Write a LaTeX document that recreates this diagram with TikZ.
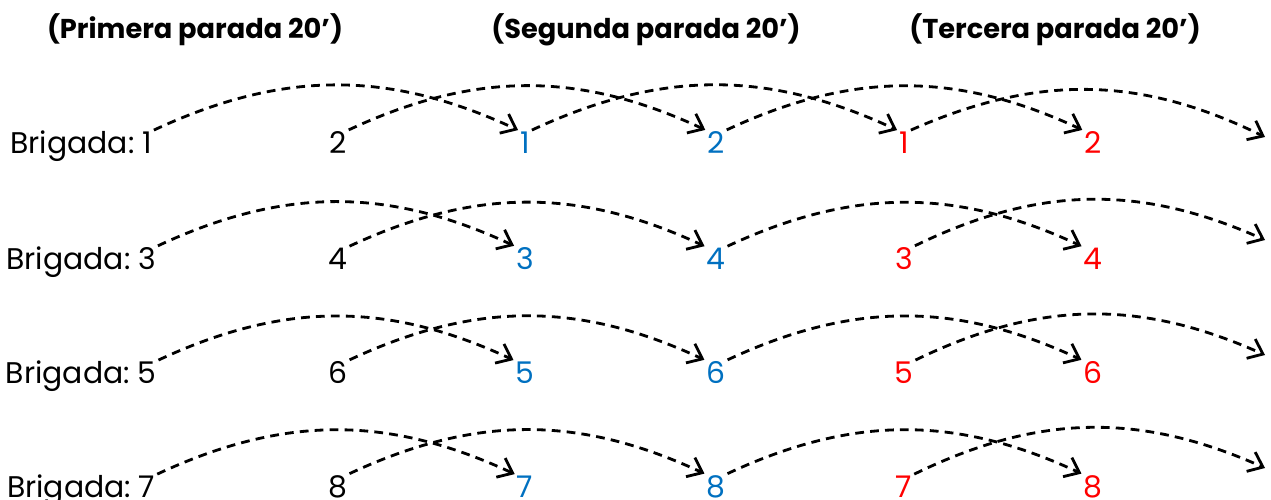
\documentclass[tikz,border=0pt]{standalone}
\usepackage{fontspec}
\setmainfont{Poppins}
\usepackage{tikz}
\usetikzlibrary{positioning, arrows.meta}
\definecolor{stopblue}{HTML}{0070C0}
\definecolor{stopred}{HTML}{FF0000}

\begin{document}
\begin{tikzpicture}[
    font=\fontsize{17}{20}\selectfont,
    num/.style={inner sep=1pt},
    title/.style={font=\fontsize{15.5}{18}\selectfont\bfseries},
    jump/.style={line width=1.6pt, dash pattern=on 5pt off 3.5pt,
      -{Straight Barb[length=7.5pt,width=12pt]}, bend left=25}
  ]
    \useasboundingbox (0,0) rectangle (25.42,9.98);

    % titles of the three stops
    \node[title] (t1) at (3.9, 9.38)  {(Primera parada 20’)};
    \node[title] (t2) at (12.92, 9.38) {(Segunda parada 20’)};
    \node[title] (t3) at (21.1, 9.38)  {(Tercera parada 20’)};

    % brigades 1 and 2
    \node[num] (a1) at (2.94, 7.12) {1};
    \node[num, base left=2pt of a1] (l1) {Brigada:};
    \node[num] (a2) at (6.76, 7.12) {2};
    \node[num, stopblue] (b1) at (10.5, 7.12) {1};
    \node[num, stopblue] (b2) at (14.32, 7.12) {2};
    \node[num, stopred] (c1) at (18.08, 7.12) {1};
    \node[num, stopred] (c2) at (21.86, 7.12) {2};
    \coordinate (e1) at (25.3, 7.24);

    \draw[jump] (a1.north east) to (b1.north west);
    \draw[jump] (a2.north east) to (b2.north west);
    \draw[jump] (b1.north east) to (c1.north west);
    \draw[jump] (b2.north east) to (c2.north west);
    \draw[jump] (c1.north east) to (e1);

    % brigades 3 and 4
    \node[num] (a3) at (2.94, 4.8) {3};
    \node[num, base left=2pt of a3] (l3) {Brigada:};
    \node[num] (a4) at (6.76, 4.8) {4};
    \node[num, stopblue] (b3) at (10.5, 4.8) {3};
    \node[num, stopblue] (b4) at (14.32, 4.8) {4};
    \node[num, stopred] (c3) at (18.08, 4.8) {3};
    \node[num, stopred] (c4) at (21.86, 4.8) {4};
    \coordinate (e3) at (25.3, 5.18);

    \draw[jump] (a3.north east) to (b3.north west);
    \draw[jump] (a4.north east) to (b4.north west);
    \draw[jump] (b4.north east) to (c4.north west);
    \draw[jump] (c3.north east) to (e3);

    % brigades 5 and 6
    \node[num] (a5) at (2.94, 2.52) {5};
    \node[num, base left=2pt of a5] (l5) {Brigada:};
    \node[num] (a6) at (6.76, 2.52) {6};
    \node[num, stopblue] (b5) at (10.5, 2.52) {5};
    \node[num, stopblue] (b6) at (14.32, 2.52) {6};
    \node[num, stopred] (c5) at (18.08, 2.52) {5};
    \node[num, stopred] (c6) at (21.86, 2.52) {6};
    \coordinate (e5) at (25.3, 2.88);

    \draw[jump] (a5.north east) to (b5.north west);
    \draw[jump] (a6.north east) to (b6.north west);
    \draw[jump] (b6.north east) to (c6.north west);
    \draw[jump] (c5.north east) to (e5);

    % brigades 7 and 8
    \node[num] (a7) at (2.94, 0.24) {7};
    \node[num, base left=2pt of a7] (l7) {Brigada:};
    \node[num] (a8) at (6.76, 0.24) {8};
    \node[num, stopblue] (b7) at (10.5, 0.24) {7};
    \node[num, stopblue] (b8) at (14.32, 0.24) {8};
    \node[num, stopred] (c7) at (18.08, 0.24) {7};
    \node[num, stopred] (c8) at (21.86, 0.24) {8};
    \coordinate (e7) at (25.3, 0.62);

    \draw[jump] (a7.north east) to (b7.north west);
    \draw[jump] (a8.north east) to (b8.north west);
    \draw[jump] (b8.north east) to (c8.north west);
    \draw[jump] (c7.north east) to (e7);

  \end{tikzpicture}
\end{document}
